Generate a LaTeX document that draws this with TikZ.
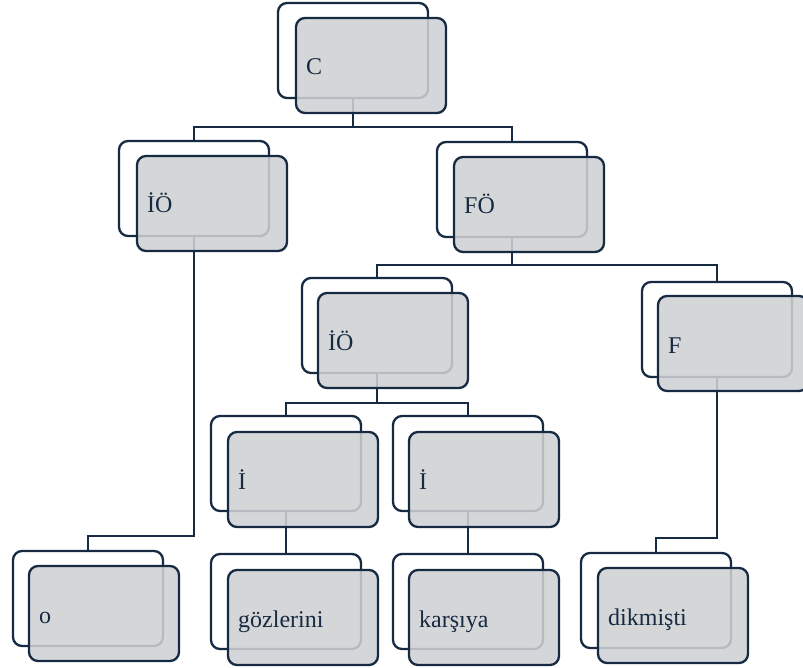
\documentclass[tikz,border=0pt]{standalone}
\usepackage{fontspec}
\setmainfont{Liberation Serif}
\definecolor{navy}{RGB}{22,43,66}
\definecolor{boxgray}{RGB}{207,208,211}
\tikzset{
  backbox/.style={draw=navy, line width=2.3pt, fill=white, rounded corners=9pt,
    minimum width=150pt, minimum height=95pt, inner sep=0pt, outer sep=0pt, anchor=north west},
  frontbox/.style={draw=navy, line width=2.3pt, fill=boxgray, fill opacity=0.87, draw opacity=1,
    rounded corners=9pt, minimum width=150pt, minimum height=95pt, inner sep=0pt, outer sep=0pt, anchor=north west},
  lbl/.style={anchor=base west, inner sep=0pt, text=navy, font=\fontsize{24}{26}\selectfont},
  conn/.style={draw=navy, line width=2.3pt},
}
\begin{document}
\begin{tikzpicture}[x=1pt,y=-1pt]
\useasboundingbox (0,0) rectangle (803,668);
% back boxes
\node[backbox] (Cb)   at (278,3) {};
\node[backbox] (IOb)  at (119,141) {};
\node[backbox] (FOb)  at (437,142) {};
\node[backbox] (IObb) at (302,278) {};
\node[backbox] (Fb)   at (642,282) {};
\node[backbox] (Iab)  at (211,416) {};
\node[backbox] (Ibb)  at (393,416) {};
\node[backbox] (ob)   at (13,551) {};
\node[backbox] (gb)   at (211,554) {};
\node[backbox] (kb)   at (393,554) {};
\node[backbox] (db)   at (581,553) {};
% connectors
\draw[conn] (Cb.south) -- (Cb.south |- 0,127);
\draw[conn] (IOb.north) -- (IOb.north |- 0,127) -- (FOb.north |- 0,127) -- (FOb.north);
\draw[conn] (IOb.south) -- (IOb.south |- 0,536) -- (ob.north |- 0,536) -- (ob.north);
\draw[conn] (FOb.south) -- (FOb.south |- 0,265);
\draw[conn] (IObb.north) -- (IObb.north |- 0,265) -- (Fb.north |- 0,265) -- (Fb.north);
\draw[conn] (IObb.south) -- (IObb.south |- 0,403);
\draw[conn] (Iab.north) -- (Iab.north |- 0,403) -- (Ibb.north |- 0,403) -- (Ibb.north);
\draw[conn] (Iab.south) -- (gb.north);
\draw[conn] (Ibb.south) -- (kb.north);
\draw[conn] (Fb.south) -- (Fb.south |- 0,538) -- (db.north |- 0,538) -- (db.north);
% front boxes
\node[frontbox] (C)   at (296,18) {};
\node[frontbox] (IO)  at (137,156) {};
\node[frontbox] (FO)  at (454,157) {};
\node[frontbox] (IOb2) at (318,293) {};
\node[frontbox] (F)   at (658,296) {};
\node[frontbox] (Ia)  at (228,432) {};
\node[frontbox] (Ib)  at (409,432) {};
\node[frontbox] (o)   at (29,566) {};
\node[frontbox] (g)   at (228,570) {};
\node[frontbox] (k)   at (409,570) {};
\node[frontbox] (d)   at (598,568) {};
% labels
\node[lbl] (tC)  at ([shift={(10,9.5)}]C.west) {C};
\node[lbl] (tIO) at ([shift={(10,9.5)}]IO.west) {İÖ};
\node[lbl] (tFO) at ([shift={(10,9.5)}]FO.west) {FÖ};
\node[lbl] (tIO2) at ([shift={(10,9.5)}]IOb2.west) {İÖ};
\node[lbl] (tF)  at ([shift={(10,9.5)}]F.west) {F};
\node[lbl] (tIa) at ([shift={(10,9.5)}]Ia.west) {İ};
\node[lbl] (tIb) at ([shift={(10,9.5)}]Ib.west) {İ};
\node[lbl] (to)  at ([shift={(10,9.5)}]o.west) {o};
\node[lbl] (tg)  at ([shift={(10,9.5)}]g.west) {gözlerini};
\node[lbl] (tk)  at ([shift={(10,9.5)}]k.west) {karşıya};
\node[lbl] (td)  at ([shift={(10,9.5)}]d.west) {dikmişti};
\end{tikzpicture}
\end{document}
